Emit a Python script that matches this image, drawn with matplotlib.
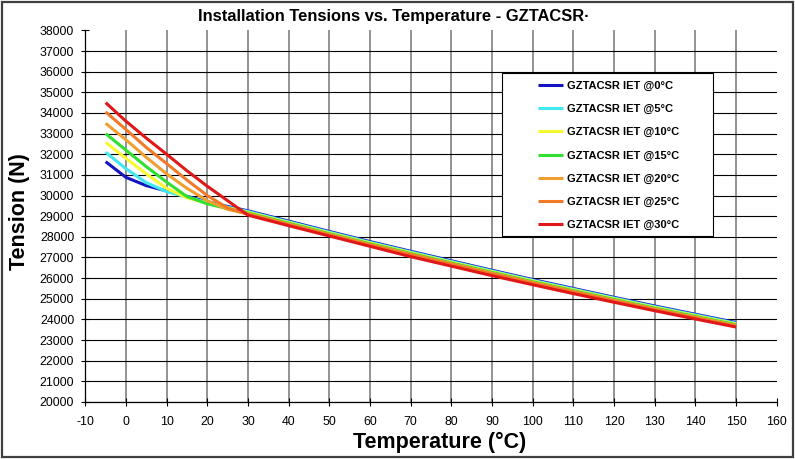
import matplotlib
matplotlib.use("Agg")
import matplotlib.pyplot as plt
from matplotlib.patches import Rectangle

plt.rcParams['font.family'] = ['Liberation Sans', 'DejaVu Sans']
plt.rcParams['axes.unicode_minus'] = False

# temperature (degC) and tension (N) for each installation temperature
temps = [-5, 0, 5, 10, 15, 20, 25, 30, 40, 50, 60, 70, 80, 90, 100, 110, 120, 130, 140, 150]

iet_0 = [31640, 30880, 30480, 30220, 29960, 29700, 29470, 29260, 28760, 28260,
         27770, 27300, 26840, 26380, 25930, 25500, 25070, 24650, 24250, 23850]
iet_5 = [32100, 31300, 30620, 30190, 29925, 29665, 29435, 29225, 28725, 28225,
         27735, 27265, 26805, 26345, 25895, 25465, 25035, 24615, 24215, 23815]
iet_10 = [32580, 31800, 31050, 30350, 29890, 29630, 29400, 29190, 28690, 28190,
          27700, 27230, 26770, 26310, 25860, 25430, 25000, 24580, 24180, 23780]
iet_15 = [33000, 32200, 31400, 30650, 29950, 29600, 29365, 29155, 28655, 28155,
          27665, 27195, 26735, 26275, 25825, 25395, 24965, 24545, 24145, 23745]
iet_20 = [33500, 32700, 31850, 31050, 30350, 29750, 29330, 29120, 28620, 28120,
          27630, 27160, 26700, 26240, 25790, 25360, 24930, 24510, 24110, 23710]
iet_25 = [34050, 33200, 32330, 31550, 30750, 30000, 29400, 29085, 28585, 28085,
          27595, 27125, 26665, 26205, 25755, 25325, 24895, 24475, 24075, 23675]
iet_30 = [34500, 33600, 32780, 32000, 31200, 30450, 29750, 29050, 28540, 28040,
          27540, 27040, 26580, 26120, 25680, 25250, 24830, 24420, 24020, 23630]

series = [iet_0, iet_5, iet_10, iet_15, iet_20, iet_25, iet_30]
labels = ['GZTACSR IET @0°C', 'GZTACSR IET @5°C', 'GZTACSR IET @10°C',
          'GZTACSR IET @15°C', 'GZTACSR IET @20°C', 'GZTACSR IET @25°C',
          'GZTACSR IET @30°C']
colors = ['#1414c0', '#40e8f0', '#f8f830', '#30e030', '#f0a030', '#f07a28', '#e01818']

x_ticks = list(range(-10, 161, 10))
y_ticks = list(range(20000, 38001, 1000))

fig = plt.figure(figsize=(7.95, 4.59), dpi=100)
ax = fig.add_axes([0.1073, 0.1242, 0.8697, 0.8096])

for vals, lab, col in zip(series, labels, colors):
    ax.plot(temps, vals, color=col, lw=2.2, label=lab, solid_capstyle='butt')

ax.set_xlim(-10, 160)
ax.set_ylim(20000, 38000)
ax.set_xticks(x_ticks)
ax.set_yticks(y_ticks)
ax.tick_params(direction='inout', length=6, width=0.8, labelsize=8.9, colors='black')
ax.tick_params(axis='y', pad=5)
ax.tick_params(axis='x', pad=7)

ax.xaxis.grid(True, color='#808080', lw=1.2)
ax.yaxis.grid(True, color='black', lw=0.8)
ax.set_axisbelow(True)
ax.yaxis.get_gridlines()[-1].set_visible(False)
ax.xaxis.get_gridlines()[-1].set_visible(False)

for s in ['top', 'right']:
    ax.spines[s].set_visible(False)
for s in ['left', 'bottom']:
    ax.spines[s].set_linewidth(0.9)

# legend box
ax.add_patch(Rectangle((0.602, 0.447), 0.306, 0.439, transform=ax.transAxes,
                       facecolor='white', edgecolor='black', lw=0.8, zorder=5))
leg = ax.legend(loc='upper left', bbox_to_anchor=(0.655, 0.864), frameon=False,
                prop={'size': 8, 'weight': 'bold'}, handlelength=2.25,
                handletextpad=0.3, labelspacing=1.18, borderpad=0, borderaxespad=0)
leg.set_zorder(6)

fig.text(0.495, 0.963, 'Installation Tensions vs. Temperature - GZTACSR·',
         ha='center', va='center', fontsize=11.9, fontweight='bold')
fig.text(0.553, 0.037, 'Temperature (°C)', ha='center', va='center',
         fontsize=15.5, fontweight='bold')
fig.text(0.025, 0.538, 'Tension (N)', ha='center', va='center', rotation=90,
         fontsize=15.5, fontweight='bold')

fig.patches.append(Rectangle((0.002, 0.004), 0.995, 0.992, transform=fig.transFigure,
                             fill=False, edgecolor='#404040', lw=1.6))

fig.savefig('out.png', dpi=100)
